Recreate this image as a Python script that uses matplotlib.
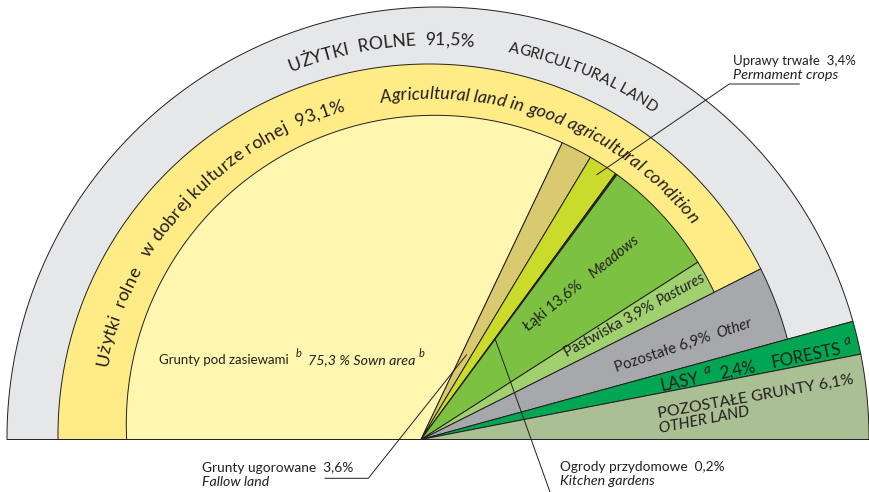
import numpy as np
import matplotlib
matplotlib.use("Agg")
import matplotlib.pyplot as plt
from matplotlib.patches import Polygon
from matplotlib.font_manager import FontProperties
from matplotlib.textpath import text_to_path

# ---------------- data ----------------
land_labels = ["Użytki rolne", "Lasy", "Pozostałe grunty"]
land_share = [91.5, 2.4, 6.1]                 # % of total area
agri_labels = ["w dobrej kulturze rolnej", "Pozostałe"]
agri_share = [93.1, 6.9]                      # % of agricultural land
good_labels = ["Grunty pod zasiewami", "Grunty ugorowane", "Uprawy trwałe",
               "Ogrody przydomowe", "Łąki", "Pastwiska"]
good_share = [75.3, 3.6, 3.4, 0.2, 13.6, 3.9]  # % of land in good condition

# ---------------- style ----------------
FAM = ["Lato", "DejaVu Sans"]
plt.rcParams["font.family"] = FAM
TXT = "#231f20"
EDGE = "#231f20"
C_GREY_RING = "#e6e7e8"
C_YELLOW = "#ffec87"
C_GOOD = ["#fff6b0", "#d9c96f", "#cadb2c", "#2b3318", "#7dc142", "#a1d06f"]
C_OTHER_AGRI = "#a7a8ab"
C_FOREST = "#00a651"
C_OTHER_LAND = "#abbf94"

fig = plt.figure(figsize=(8.69, 4.92), dpi=100)
ax = fig.add_axes([0, 0, 1, 1])
ax.set_xlim(0, 869)
ax.set_ylim(0, 492)
ax.axis("off")

P = np.array([421.0, 52.5])            # common apex of the wedges
C_OUT, R_OUT = np.array([438.0, 54.0]), 431.0
C_MID, R_MID = np.array([429.0, 57.0]), 371.0
C_IN, R_IN = np.array([435.0, 68.0]), 308.7

# angular scale: 100 % of area = 180 degrees
agri_span = 180.0 * land_share[0] / 100.0
th_agri_end = 180.0 - agri_span
th_forest_end = th_agri_end - 180.0 * land_share[1] / 100.0
th_land_end = th_forest_end - 180.0 * land_share[2] / 100.0
good_span = agri_span * agri_share[0] / 100.0
th_good_end = 180.0 - good_span
good_bounds = [180.0]
for v in good_share:
    good_bounds.append(good_bounds[-1] - good_span * v / 100.0)


def hit(theta, C, R):
    t = np.radians(theta)
    d = np.array([np.cos(t), np.sin(t)])
    f = P - C
    b = d @ f
    c = f @ f - R * R
    s = -b + np.sqrt(b * b - c)
    return P + s * d


def ray_pt(theta, r):
    t = np.radians(theta)
    return P + r * np.array([np.cos(t), np.sin(t)])


def wedge(t1, t2, C, R, color, z=1):
    n = max(int(abs(t1 - t2) * 4) + 2, 3)
    pts = [P] + [hit(t, C, R) for t in np.linspace(t1, t2, n)]
    ax.add_patch(Polygon(pts, closed=True, fc=color, ec=EDGE, lw=0.7,
                         joinstyle="round", zorder=z))


# outer ring (agricultural land) and yellow ring (good condition)
wedge(180.0, th_agri_end, C_OUT, R_OUT, C_GREY_RING, 1)
wedge(180.0, th_good_end, C_MID, R_MID, C_YELLOW, 2)
wedge(th_good_end, th_agri_end, C_MID, R_MID, C_OTHER_AGRI, 3)
for i in range(len(good_share)):
    wedge(good_bounds[i], good_bounds[i + 1], C_IN, R_IN, C_GOOD[i], 4)
wedge(th_agri_end, th_forest_end, C_OUT, R_OUT, C_FOREST, 3)
wedge(th_forest_end, th_land_end, C_OUT, R_OUT, C_OTHER_LAND, 3)


# ---------------- text helpers ----------------
def tw(s, fp):
    w, _, _ = text_to_path.get_text_width_height_descent(s, fp, ismath=False)
    return w * 100.0 / 72.0


def adv(s, fp):
    if not s:
        return 0.0
    return tw(s + "l", fp) - tw("l", fp)


def fit_fs(s, length, style="normal"):
    fp10 = FontProperties(family=FAM, style=style, size=10)
    return 10.0 * length / tw(s, fp10)


def arc_text(s, C, r, a0, a1, style="normal", fs_max=13):
    fp10 = FontProperties(family=FAM, style=style, size=10)
    L = r * np.radians(a0 - a1)
    fs = min(fs_max, 10.0 * L / adv(s, fp10))
    fp = FontProperties(family=FAM, style=style, size=fs)
    W = adv(s, fp)
    extra = (L - W) / (len(s) - 1)
    for i, ch in enumerate(s):
        if ch == " ":
            continue
        mid = (adv(s[:i], fp) + adv(s[:i + 1], fp)) / 2 + extra * i
        ang = a0 - np.degrees(mid / r)
        a = np.radians(ang)
        ax.text(C[0] + r * np.cos(a), C[1] + r * np.sin(a), ch,
                rotation=ang - 90, rotation_mode="anchor", ha="center",
                va="baseline", fontsize=fs, fontstyle=style, color=TXT,
                zorder=10)


def put(x, y, s, length=None, rot=0.0, style="normal", fs=None, z=10):
    if fs is None:
        fs = fit_fs(s, length, style)
    ax.text(x, y, s, fontsize=fs, rotation=rot, rotation_mode="anchor",
            ha="left", va="baseline", fontstyle=style, color=TXT, zorder=z)


def along(start, rot, off, up=0.0):
    a = np.radians(rot)
    return (start[0] + off * np.cos(a) - up * np.sin(a),
            start[1] + off * np.sin(a) + up * np.cos(a))


# ---------------- curved ring titles ----------------
arc_text("UŻYTKI  ROLNE  91,5%", (433, 56), 391, 111.3, 84.1, fs_max=14)
arc_text("AGRICULTURAL LAND", (433, 56), 391, 79.0, 55.7, fs_max=14)
arc_text("Użytki  rolne   w dobrej kulturze rolnej  93,1%", (432, 62), 331,
         169.0, 105.2, fs_max=13)
arc_text("Agricultural land in good agricultural condition", (432, 62), 331,
         98.9, 38.5, style="italic", fs_max=13)

# ---------------- sown area ----------------
put(159, 128, "Grunty pod zasiewami", 130)
put(296, 135, "b", style="italic", fs=8)
put(308, 128, "75,3 % Sown area", 107, style="italic")
put(419, 135, "b", style="italic", fs=8)

# ---------------- meadows / pastures / other ----------------
fs_w = fit_fs("Pastwiska 3,9%", 92) * 1.1
s = (528.3, 160.3)
put(*s, "Łąki 13,6%", rot=39, fs=fs_w)
put(*along(s, 39, 84), "Meadows", rot=39, style="italic", fs=fs_w)
s = (566.7, 135.3)
put(*s, "Pastwiska 3,9%", rot=28.8, fs=fs_w)
put(*along(s, 28.8, 106), "Pastures", rot=28.8, style="italic", fs=fs_w)
s = (616.7, 120.3)
put(*s, "Pozostałe 6,9%", rot=18.4, fs=fs_w)
put(*along(s, 18.4, 107), "Other", rot=18.4, style="italic", fs=fs_w)

# ---------------- forests / other land ----------------
s = (661.7, 101.3)
rf = 11.5
fs_f = fit_fs("FORESTS", 66) * 1.08
put(*s, "LASY", rot=rf, fs=fs_f)
put(*along(s, rf, 45, 7.5), "a", rot=rf, style="italic", fs=9.5)
put(*along(s, rf, 60), "2,4%", rot=rf, fs=fs_f)
put(*along(s, rf, 113), "FORESTS", rot=rf, fs=fs_f)
put(*along(s, rf, 188, 8.5), "a", rot=rf, style="italic", fs=9.5)
put(658.3, 73.7, "POZOSTAŁE GRUNTY 6,1%", 198, rot=10)
put(660.0, 58.7, "OTHER LAND", 92, rot=11, style="italic")

# ---------------- external labels with leaders ----------------
lk = dict(color=EDGE, lw=0.7, zorder=11)
# permanent crops
put(733.3, 427, "Uprawy trwałe  3,4%", 123)
put(733.3, 413, "Permament crops", 105, style="italic")
end = ray_pt((good_bounds[2] + good_bounds[3]) / 2, 318)
ax.plot([799.3, 729.3, end[0]], [408, 408, end[1]], **lk)
# fallow land
put(202, 20.3, "Grunty ugorowane  3,6%", 151)
put(202, 6, "Fallow land", 67, style="italic")
end = ray_pt((good_bounds[1] + good_bounds[2]) / 2, 96)
ax.plot([325, 368.3, end[0]], [13.7, 13.7, end[1]], **lk)
# kitchen gardens
put(560, 21.3, "Ogrody przydomowe  0,2%", 163)
put(560, 7, "Kitchen gardens", 95, style="italic")
end = ray_pt((good_bounds[3] + good_bounds[4]) / 2, 125)
ax.plot([550, end[0]], [0, end[1]], **lk)

fig.savefig("out.png", dpi=100)
